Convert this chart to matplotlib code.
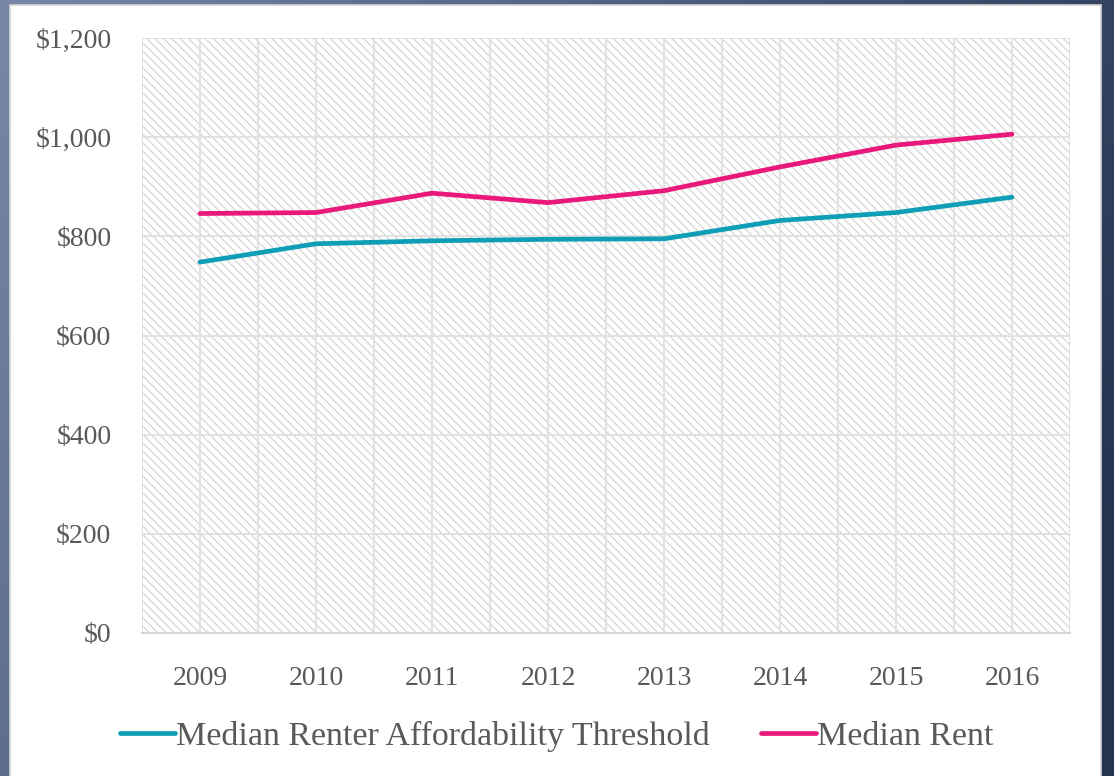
import numpy as np
import matplotlib
matplotlib.use("Agg")
import matplotlib.pyplot as plt
from matplotlib.patches import Rectangle
from matplotlib.colors import LinearSegmentedColormap

# data
years = ["2009", "2010", "2011", "2012", "2013", "2014", "2015", "2016"]
threshold = [748, 785, 791, 794, 795, 832, 848, 879]
median_rent = [846, 848, 887, 868, 892, 940, 984, 1006]
y_ticks = [0, 200, 400, 600, 800, 1000, 1200]
y_labels = ["$0", "$200", "$400", "$600", "$800", "$1,000", "$1,200"]

TEAL = "#0E9EB6"
PINK = "#E8187C"
TXT = "#595959"
GRID = "#e0e0e0"

plt.rcParams["font.family"] = ["Liberation Serif", "DejaVu Serif"]
plt.rcParams["hatch.color"] = "#d2d2d2"
plt.rcParams["hatch.linewidth"] = 0.8

W, H = 1114, 776
fig = plt.figure(figsize=(W / 100, H / 100), dpi=100)

# slide background: blue-grey gradient, lighter top-left, dark navy right
bg = fig.add_axes([0, 0, 1, 1], zorder=-10)
xx, yy = np.meshgrid(np.linspace(0, 1, 200), np.linspace(0, 1, 200))
grad = np.clip(0.8 * xx + 0.3 * yy, 0, 1)
cmap = LinearSegmentedColormap.from_list("bg", ["#7787a7", "#243350"])
bg.imshow(grad, cmap=cmap, aspect="auto", extent=[0, 1, 0, 1], origin="upper")
bg.set_xlim(0, 1)
bg.set_ylim(0, 1)
bg.axis("off")

# white panel
bg.add_patch(Rectangle((10 / W, -0.01), (1101 - 10) / W, 1 - 5 / H + 0.01,
                       facecolor="white", edgecolor="#d4d4d4", linewidth=1.2))

ax = fig.add_axes([142 / W, (H - 633) / H, (1070 - 142) / W, (633 - 38) / H])
ax.set_facecolor("white")
x = np.arange(len(years))

# hatched plot area
ax.add_patch(Rectangle((0, 0), 1, 1, transform=ax.transAxes, facecolor="white",
                       edgecolor="#d2d2d2", hatch="\\\\\\\\", linewidth=0, zorder=0))

ax.plot(x, threshold, color=TEAL, linewidth=3.4, solid_capstyle="round",
        label="Median Renter Affordability Threshold", zorder=3)
ax.plot(x, median_rent, color=PINK, linewidth=3.4, solid_capstyle="round",
        label="Median Rent", zorder=3)

ax.set_xlim(-0.5, len(years) - 0.5)
ax.set_ylim(0, 1200)
ax.set_yticks(y_ticks)
ax.set_yticklabels(y_labels)
ax.set_xticks(x)
ax.set_xticklabels(years)
ax.set_xticks(np.arange(-0.5, len(years), 1.0), minor=True)

ax.grid(True, which="major", color=GRID, linewidth=1.3, zorder=1)
ax.grid(True, which="minor", axis="x", color=GRID, linewidth=1.3, zorder=1)
ax.set_axisbelow(True)

for s in ["top", "left", "right"]:
    ax.spines[s].set_visible(False)
ax.spines["bottom"].set_color("#d6d6d6")
ax.spines["bottom"].set_linewidth(1.5)

ax.tick_params(axis="both", which="both", length=0, colors=TXT, labelsize=20)
ax.tick_params(axis="y", pad=22)
ax.tick_params(axis="x", pad=24)

fig.legend(loc="center", bbox_to_anchor=(0.5, (H - 736) / H), ncol=2,
           frameon=False, fontsize=24.5, labelcolor=TXT, handlelength=1.6,
           handletextpad=0.05, columnspacing=1.5)

fig.savefig("out.png", dpi=100)
